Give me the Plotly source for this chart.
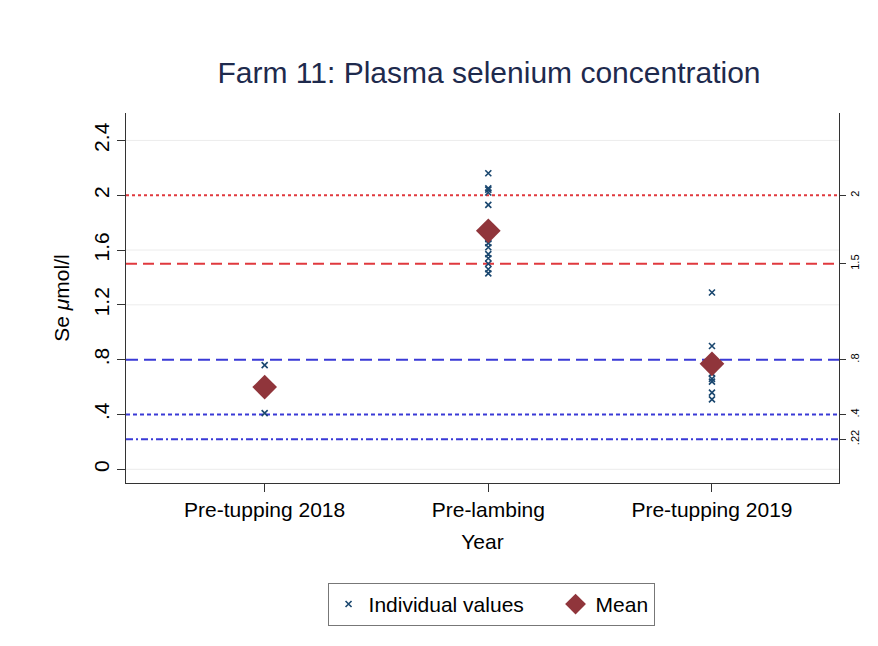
import plotly.graph_objects as go

# Sampling periods on the x axis
periods = ["Pre-tupping 2018", "Pre-lambing", "Pre-tupping 2019"]

# Individual plasma Se values (µmol/l) per period
se_pretup_2018 = [0.76, 0.62, 0.41]
se_prelamb = [2.16, 2.05, 2.04, 2.02, 1.93, 1.68, 1.65, 1.62, 1.57, 1.54, 1.50, 1.46, 1.43]
se_pretup_2019 = [1.29, 0.90, 0.78, 0.70, 0.66, 0.64, 0.56, 0.51]

# Group means
se_means = [0.60, 1.74, 0.77]

# Reference thresholds drawn across the plot
ref_values = [2.0, 1.5, 0.8, 0.4, 0.22]
ref_labels = ["2", "1.5", ".8", ".4", ".22"]
ref_colors = ["#e0393e", "#e0393e", "#3a3ad6", "#3a3ad6", "#3a3ad6"]
ref_dashes = ["3px,3px", "11px,6px", "12px,6px", "4px,3px", "7px,3px,2px,3px"]

# Left axis ticks
y_ticks = [0, 0.4, 0.8, 1.2, 1.6, 2.0, 2.4]
y_ticktext = ["0", ".4", ".8", "1.2", "1.6", "2", "2.4"]

NAVY = "#1a476f"
MAROON = "#90353b"
FONT = "Liberation Sans, Arial, sans-serif"

groups = [se_pretup_2018, se_prelamb, se_pretup_2019]
xs, ys = [], []
for i, vals in enumerate(groups, start=1):
    xs += [i] * len(vals)
    ys += vals

fig = go.Figure()

fig.add_trace(go.Scatter(
    x=xs, y=ys, mode="markers", name="Individual values",
    marker=dict(symbol="x-thin", size=6, color=NAVY,
                line=dict(color=NAVY, width=1.6)),
    legendwidth=182,
))
fig.add_trace(go.Scatter(
    x=[1, 2, 3], y=se_means, mode="markers", name="Mean",
    marker=dict(symbol="diamond", size=19, color=MAROON,
                line=dict(width=0)),
))
# invisible trace so the right-hand threshold axis is drawn
fig.add_trace(go.Scatter(
    x=[1, 2, 3], y=se_means, yaxis="y2", mode="markers",
    marker=dict(opacity=0), showlegend=False, hoverinfo="skip",
))

shapes = []
# light grid at the left-axis ticks not already covered by a threshold line
for t in y_ticks:
    if t not in ref_values:
        shapes.append(dict(type="line", xref="paper", x0=0, x1=1, yref="y",
                           y0=t, y1=t, line=dict(color="#ececec", width=1),
                           layer="below"))
for v, c, d in zip(ref_values, ref_colors, ref_dashes):
    shapes.append(dict(type="line", xref="paper", x0=0, x1=1, yref="y",
                       y0=v, y1=v, line=dict(color=c, width=2, dash=d),
                       layer="below"))

y_range = [-0.1, 2.6]

fig.update_layout(
    width=878, height=646,
    margin=dict(l=126, r=39, t=113, b=163),
    paper_bgcolor="white", plot_bgcolor="white",
    font=dict(family=FONT, color="#000000"),
    title=dict(text="Farm 11: Plasma selenium concentration",
               x=0.557, xanchor="center", y=0.887, yanchor="middle",
               font=dict(size=30, color="#1e2a4d")),
    shapes=shapes,
    xaxis=dict(
        range=[0.38, 3.568], tickvals=[1, 2, 3], ticktext=periods,
        ticks="outside", ticklen=8, tickcolor="#333", showgrid=False,
        showline=True, linecolor="#333", linewidth=1, zeroline=False,
        tickfont=dict(size=21),
        title=dict(text="Year", font=dict(size=21), standoff=14),
    ),
    yaxis=dict(
        range=y_range, tickvals=y_ticks, ticktext=y_ticktext, tickangle=-90,
        ticks="outside", ticklen=8, tickcolor="#333",
        showline=True, linecolor="#333", linewidth=1,
        showgrid=False, zeroline=False,
        tickfont=dict(size=21),
        title=dict(text="Se <i>μ</i>mol/l", font=dict(size=21), standoff=14),
    ),
    yaxis2=dict(
        range=y_range, overlaying="y", side="right",
        tickvals=ref_values, ticktext=ref_labels, tickangle=-90,
        ticks="outside", ticklen=6, tickcolor="#333",
        showline=True, linecolor="#333", linewidth=1,
        showgrid=False, zeroline=False, tickfont=dict(size=11),
    ),
    legend=dict(
        orientation="h", x=0.512, xanchor="center", y=-0.27, yanchor="top",
        bordercolor="#777", borderwidth=1, font=dict(size=21),
        traceorder="normal",
    ),
    showlegend=True,
)

fig.write_html("out.html")
